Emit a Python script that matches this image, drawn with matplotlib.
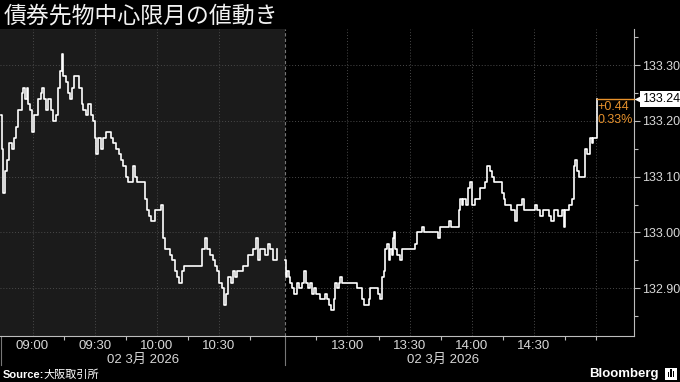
import matplotlib
matplotlib.use('Agg')
import matplotlib.pyplot as plt
from matplotlib import font_manager
from matplotlib.transforms import ScaledTranslation

# JGB futures, 02 Mar 2026, morning session: minutes after 08:45
am_min = [0.0, 0.3, 0.6, 0.9, 1.7, 2.5, 3.8, 5.0, 6.1, 7.0, 8.2, 9.3, 9.9, 10.6, 11.4,
          12.2, 13.0, 13.8, 14.9, 15.7, 17.0, 17.8, 19.0, 19.6, 20.6, 21.5, 22.6, 23.8,
          25.1, 26.4, 27.5, 28.3, 29.1, 29.9, 31.2, 32.3, 33.1, 33.9, 35.0, 36.3, 37.6,
          38.7, 39.5, 40.8, 42.0, 43.1, 44.4, 45.2, 45.7, 46.8, 47.9, 49.2, 50.5, 51.6,
          52.7, 54.0, 55.3, 56.6, 57.7, 58.8, 60.1, 61.3, 62.1, 63.4, 64.5, 65.6, 66.9,
          68.2, 69.1, 70.1, 71.2, 72.2, 73.3, 74.1, 75.3, 76.5, 77.2, 77.8, 78.8, 80.1,
          81.4, 82.5, 83.6, 84.9, 85.9, 87.0, 88.1, 89.4, 91.0, 92.6, 94.2, 95.8, 97.0,
          98.3, 99.4, 100.7, 102.0, 103.1, 104.2, 105.2, 106.3, 107.4, 108.4, 109.5,
          110.6, 111.6, 112.7, 113.9, 115.1, 116.4, 117.7, 119.2, 120.3, 121.6, 122.7,
          123.7, 124.8, 126.1, 127.4, 128.5, 129.6, 130.9, 132.0, 133.2]
am_px = [133.21, 133.15, 133.09, 133.07, 133.11, 133.13, 133.16, 133.15, 133.17, 133.19,
         133.22, 133.22, 133.25, 133.26, 133.24, 133.26, 133.23, 133.22, 133.18, 133.21,
         133.21, 133.24, 133.25, 133.26, 133.24, 133.22, 133.24, 133.22, 133.20, 133.21,
         133.26, 133.29, 133.32, 133.28, 133.27, 133.25, 133.24, 133.26, 133.28, 133.28,
         133.26, 133.23, 133.22, 133.21, 133.23, 133.21, 133.20, 133.17, 133.14, 133.17,
         133.15, 133.17, 133.18, 133.18, 133.17, 133.16, 133.15, 133.14, 133.13, 133.12,
         133.10, 133.09, 133.09, 133.12, 133.10, 133.09, 133.09, 133.09, 133.06, 133.04,
         133.03, 133.02, 133.02, 133.04, 133.04, 133.04, 133.05, 132.99, 132.97, 132.97,
         132.96, 132.95, 132.93, 132.92, 132.91, 132.93, 132.94, 132.94, 132.94, 132.94,
         132.94, 132.94, 132.97, 132.99, 132.97, 132.96, 132.95, 132.94, 132.93, 132.91,
         132.90, 132.87, 132.89, 132.92, 132.91, 132.93, 132.92, 132.93, 132.93, 132.94,
         132.94, 132.96, 132.96, 132.97, 132.99, 132.95, 132.97, 132.97, 132.96, 132.98,
         132.97, 132.95, 132.95, 132.97]

# afternoon session: minutes after 12:30
pm_min = [0.0, 0.2, 1.0, 1.7, 2.4, 3.1, 4.0, 4.8, 5.8, 6.5, 7.2, 8.1, 8.8, 9.9, 11.1,
          11.8, 12.8, 13.8, 14.7, 16.1, 16.9, 18.1, 19.3, 20.3, 21.2, 22.2, 23.3, 24.1,
          25.1, 26.1, 26.5, 27.5, 28.5, 29.4, 30.5, 31.4, 32.3, 33.3, 34.7, 35.7, 37.2,
          38.1, 39.3, 40.2, 41.0, 42.5, 43.9, 44.9, 45.8, 46.8, 47.5, 48.3, 49.1, 50.0,
          50.2, 50.7, 51.6, 52.1, 52.6, 53.1, 54.0, 54.8, 55.5, 56.3, 57.4, 59.4, 61.3,
          62.7, 63.7, 64.4, 65.2, 66.1, 66.8, 67.6, 68.5, 70.0, 71.4, 73.8, 74.8, 76.7,
          78.2, 79.1, 80.1, 81.6, 83.0, 83.6, 84.5, 85.3, 86.0, 87.4, 88.3, 89.3, 90.2,
          91.7, 93.1, 94.1, 95.6, 96.5, 97.5, 98.1, 98.9, 99.9, 100.5, 101.3, 102.8,
          103.8, 104.7, 105.4, 106.2, 107.1, 108.1, 109.1, 110.2, 111.0, 112.0, 113.4,
          114.2, 115.3, 116.8, 118.2, 119.7, 120.7, 121.6, 123.1, 124.5, 126.0, 127.4,
          128.4, 129.5, 130.3, 131.5, 132.7, 133.7, 134.6, 135.1, 136.1, 137.1, 138.4,
          139.1, 139.9, 140.9, 141.9, 143.8, 144.8, 145.6, 146.4, 147.2, 148.0, 148.4,
          150.4, 150.5]
pm_px = [132.95, 132.92, 132.93, 132.92, 132.91, 132.90, 132.89, 132.89, 132.91, 132.90,
         132.90, 132.91, 132.93, 132.91, 132.90, 132.91, 132.89, 132.90, 132.89, 132.89,
         132.88, 132.88, 132.89, 132.88, 132.87, 132.86, 132.88, 132.91, 132.90, 132.91,
         132.92, 132.91, 132.91, 132.91, 132.91, 132.91, 132.91, 132.91, 132.90, 132.90,
         132.88, 132.87, 132.87, 132.88, 132.90, 132.90, 132.90, 132.89, 132.88, 132.92,
         132.93, 132.97, 132.98, 132.97, 132.95, 132.97, 132.96, 132.99, 133.00, 132.97,
         132.96, 132.96, 132.95, 132.97, 132.97, 132.97, 132.97, 132.98, 133.00, 133.00,
         133.00, 133.01, 133.00, 133.00, 133.00, 133.00, 133.00, 132.99, 133.01, 133.01,
         133.01, 133.02, 133.01, 133.01, 133.01, 133.04, 133.06, 133.05, 133.06, 133.05,
         133.08, 133.09, 133.05, 133.06, 133.06, 133.08, 133.08, 133.09, 133.12, 133.12,
         133.11, 133.10, 133.09, 133.09, 133.09, 133.09, 133.07, 133.06, 133.05, 133.05,
         133.05, 133.04, 133.04, 133.02, 133.05, 133.05, 133.06, 133.04, 133.04, 133.04,
         133.04, 133.05, 133.04, 133.03, 133.04, 133.04, 133.03, 133.02, 133.04, 133.04,
         133.03, 133.03, 133.04, 133.01, 133.04, 133.04, 133.05, 133.06, 133.12, 133.13,
         133.11, 133.10, 133.10, 133.15, 133.14, 133.14, 133.17, 133.16, 133.17, 133.24,
         133.24]

time_labels = ['09:00', '09:30', '10:00', '10:30', '13:00', '13:30', '14:00', '14:30']
grid_times = time_labels + ['15:00']
minor_times = ['09:15', '09:45', '10:15', '10:45', '12:45', '13:15', '13:45',
               '14:15', '14:45', '15:00']
y_major = [132.9, 133.0, 133.1, 133.2, 133.3]
y_minor = [132.85, 132.95, 133.05, 133.15, 133.25, 133.35]
date_label = '02 3月 2026'
last_price = 133.24
change_txt = '+0.44\n0.33%'
title = '債券先物中心限月の値動き'
source = '大阪取引所'

AM_LEN = 137  # 08:45 - 11:02, the lunch break is cut out


def pos(t):
    h, m = map(int, t.split(':'))
    if h < 12:
        return (h - 8) * 60 + m - 45
    return AM_LEN + (h - 12) * 60 + m - 30


def pick_font(names):
    for n in names:
        try:
            font_manager.findfont(n, fallback_to_default=False)
            return n
        except Exception:
            pass
    return 'DejaVu Sans'


num_font = pick_font(['Liberation Sans Narrow', 'Liberation Sans', 'Roboto'])
cjk = 'Noto Sans CJK JP'
fam = [num_font, cjk]
plt.rcParams['font.family'] = fam

fg = '#d8d8d8'
grid_c = '#4a4a4a'
orange = '#e8922c'

fig = plt.figure(figsize=(6.8, 3.82), dpi=100, facecolor='black')
ax = fig.add_axes([0, 1 - 336 / 382, 634 / 680, 307 / 382])
ax.set_facecolor('black')

xmin, xmax = -0.7, 305.3
ax.set_xlim(xmin, xmax)
ax.set_ylim(132.814, 133.365)

# morning shading + session separator
ax.axvspan(xmin, AM_LEN, color='#1b1b1b', zorder=0, lw=0)
ax.axvline(AM_LEN, color='#777777', lw=0.8, ls=(0, (3, 2)), zorder=1)
for xv in (xmin + 0.3, AM_LEN):
    ax.plot([xv, xv], [0, -0.095], transform=ax.get_xaxis_transform(),
            color='#777777', lw=0.8, clip_on=False)

# grid
for yv in y_major:
    ax.axhline(yv, color=grid_c, lw=0.7, ls=(0, (1, 2)), zorder=1)
for t in grid_times:
    ax.axvline(pos(t), color=grid_c, lw=0.7, ls=(0, (1, 2)), zorder=1)

pm_x = [AM_LEN + m for m in pm_min]
ax.plot(am_min, am_px, color='white', lw=1.2, drawstyle='steps-post', zorder=3)
ax.plot(pm_x, pm_px, color='white', lw=1.2, drawstyle='steps-post', zorder=3)

# axes styling
for s in ['left', 'top']:
    ax.spines[s].set_visible(False)
for s in ['right', 'bottom']:
    ax.spines[s].set_color('#bdbdbd')
    ax.spines[s].set_linewidth(0.8)

ax.yaxis.tick_right()
ax.set_yticks(y_major)
ax.set_yticklabels([f'{v:.2f}' for v in y_major])
ax.set_yticks(y_minor, minor=True)
ax.tick_params(axis='y', which='both', colors='#bdbdbd', labelcolor=fg,
               labelsize=9, length=4, width=0.8, pad=1.5)
ax.tick_params(axis='y', which='minor', length=3)

ax.set_xticks([pos(t) for t in time_labels])
ax.set_xticklabels(time_labels)
ax.set_xticks([pos(t) for t in minor_times], minor=True)
ax.tick_params(axis='x', which='major', length=0, labelcolor=fg, labelsize=9.5, pad=3)
ax.tick_params(axis='x', which='minor', length=3, color='#bdbdbd', width=0.8)

# date line under each session
for lo, hi in [(0, AM_LEN), (AM_LEN, pos('15:02'))]:
    ax.text((lo + hi) / 2, -0.077, date_label, transform=ax.get_xaxis_transform(),
            ha='center', va='center', color=fg, fontsize=9.5, family=fam)

# last price marker
last_x = pm_x[-1]
ax.plot([last_x, xmax], [last_price, last_price], color=orange, lw=1.0,
        clip_on=False, zorder=4)
ax.annotate(change_txt, (last_x, last_price), xytext=(0, -2),
            textcoords='offset points', ha='left', va='top', color=orange,
            fontsize=9, linespacing=1.1)
tip = ax.transData + ScaledTranslation(5 / 100, 0, fig.dpi_scale_trans)
ax.plot([xmax], [last_price], marker='<', ms=7, color='white', mec='none',
        transform=tip, clip_on=False, zorder=5)
ax.annotate(f'{last_price:.2f}', (xmax, last_price), xytext=(6, 0),
            textcoords='offset points', ha='left', va='center', color='black',
            fontsize=9, annotation_clip=False,
            bbox=dict(boxstyle='square,pad=0.15', fc='white', ec='none'))

# title and footer
fig.text(4 / 680, 1 - 16 / 382, title, color='#f2f2f2', fontsize=16.5,
         ha='left', va='center', family=[cjk])
fig.text(3 / 680, 1 - 375 / 382, 'Source:', color='white', fontsize=8,
         fontweight='bold', ha='left', va='center')
fig.text(43 / 680, 1 - 375 / 382, source, color='white', fontsize=8,
         ha='left', va='center', family=[cjk])
fig.text(659 / 680, 1 - 374 / 382, 'Bloomberg', color='white', fontsize=9.5,
         fontweight='bold', ha='right', va='center', family=['Liberation Sans'])
fig.patches.append(plt.Rectangle((665 / 680, 1 - 380 / 382), 12 / 680, 12 / 382,
                                 transform=fig.transFigure, fc='white', ec='none'))
for i, h in enumerate([5, 8, 6]):
    fig.patches.append(plt.Rectangle(((667.5 + i * 2.6) / 680, 1 - 377 / 382),
                                     1.6 / 680, h / 382, transform=fig.transFigure,
                                     fc='black', ec='none'))

fig.savefig('out.png', dpi=100, facecolor='black')
